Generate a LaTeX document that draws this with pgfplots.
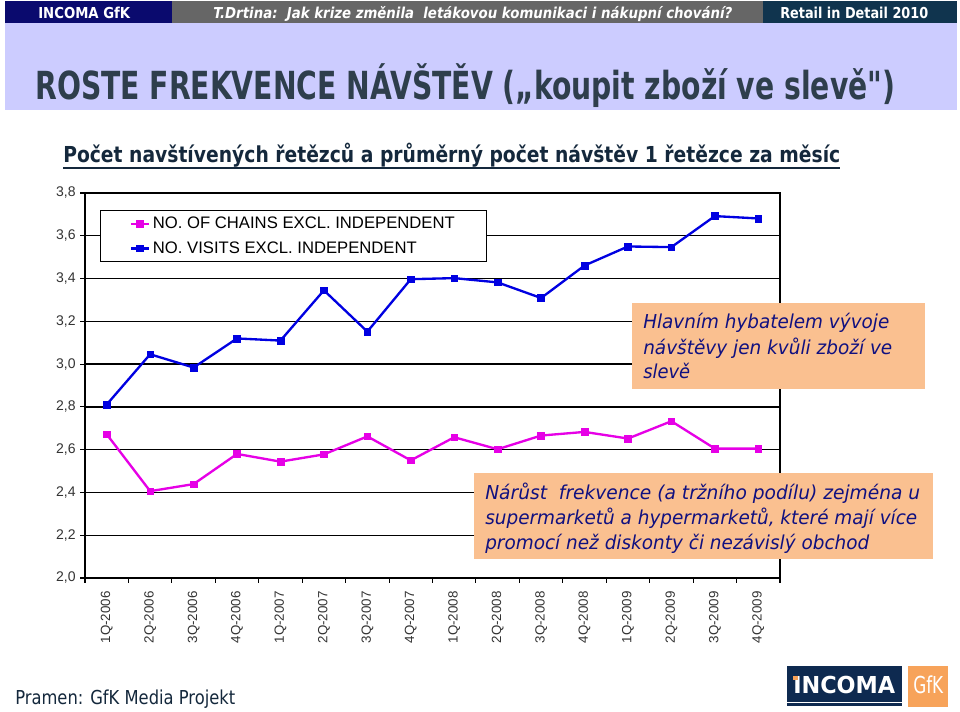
\documentclass[border=0pt]{standalone}
\usepackage{pgfplots}
\pgfplotsset{compat=1.18}
\usepackage{fontspec}
\setmainfont{Liberation Sans}
\newfontfamily\dvs{DejaVu Sans}
\definecolor{hnavy}{RGB}{10,10,110}
\definecolor{hgray}{RGB}{102,102,102}
\definecolor{hteal}{RGB}{16,52,78}
\definecolor{lav}{RGB}{204,204,255}
\definecolor{titlec}{RGB}{46,62,76}
\definecolor{subc}{RGB}{20,40,60}
\definecolor{peach}{RGB}{250,192,144}
\definecolor{annc}{RGB}{16,16,128}
\definecolor{pinkc}{RGB}{230,0,230}
\definecolor{bluec}{RGB}{0,0,225}
\definecolor{logonavy}{RGB}{14,42,80}
\definecolor{logoor}{RGB}{247,163,90}
\newcommand\fitw[2]{\resizebox{#1}{\height}{#2}}
\pgfplotstableread{
x chains visits
0 2.672 2.811
1 2.406 3.046
2 2.439 2.984
3 2.580 3.120
4 2.544 3.110
5 2.578 3.345
6 2.662 3.152
7 2.550 3.397
8 2.658 3.402
9 2.602 3.382
10 2.666 3.309
11 2.683 3.461
12 2.652 3.550
13 2.733 3.547
14 2.605 3.692
15 2.605 3.681
}\datatable
\begin{document}
\begin{tikzpicture}[x=0.75pt,y=0.75pt]
\useasboundingbox (0,0) rectangle (960,711);
\fill[white] (0,0) rectangle (960,711);
% header bar
\fill[hnavy] (5,710) rectangle (172,688);
\fill[hgray] (172,710) rectangle (763,688);
\fill[hteal] (763,710) rectangle (957,688);
\node[anchor=base west,inner sep=0,text=white] at (38,692) {\fitw{69pt}{\dvs\bfseries\fontsize{11.3}{13}\selectfont INCOMA GfK}};
\node[anchor=base west,inner sep=0,text=white] at (213,692) {\fitw{389.25pt}{\dvs\bfseries\itshape\fontsize{11.3}{13}\selectfont T.Drtina:\ \ Jak krize změnila\ \ letákovou komunikaci i nákupní chování?}};
\node[anchor=base west,inner sep=0,text=white] at (780,692) {\fitw{111pt}{\dvs\bfseries\fontsize{11.3}{13}\selectfont Retail in Detail 2010}};
% title band
\fill[lav] (5,688) rectangle (957,601);
\node[anchor=base west,inner sep=0,text=titlec] at (35,611) {\fitw{645pt}{\dvs\bfseries\fontsize{29}{31}\selectfont ROSTE FREKVENCE NÁVŠTĚV („koupit zboží ve slevě")}};
% subtitle
\node[anchor=base west,inner sep=0,text=subc] at (63,548) {\fitw{582.75pt}{\dvs\bfseries\fontsize{16.5}{19}\selectfont Počet navštívených řetězců a průměrný počet návštěv 1 řetězce za měsíc}};
\draw[subc,line width=1.5pt] (63,543) -- (840,543);
% chart
\begin{axis}[
  at={(63.75pt,99.75pt)}, anchor=south west,
  scale only axis, width=521.25pt, height=288.75pt,
  xmin=-0.5, xmax=15.5, ymin=2, ymax=3.8,
  xtick={-0.5,0.5,1.5,2.5,3.5,4.5,5.5,6.5,7.5,8.5,9.5,10.5,11.5,12.5,13.5,14.5,15.5},
  xticklabels={1Q-2006,2Q-2006,3Q-2006,4Q-2006,1Q-2007,2Q-2007,3Q-2007,4Q-2007,1Q-2008,2Q-2008,3Q-2008,4Q-2008,1Q-2009,2Q-2009,3Q-2009,4Q-2009,{}},
  xticklabel style={rotate=90, anchor=east, yshift=-16.3pt, xshift=-3pt, font=\fontsize{10}{12}\selectfont, text=black!80},
  ytick={2,2.2,2.4,2.6,2.8,3,3.2,3.4,3.6,3.8},
  yticklabel style={font=\fontsize{10.5}{12}\selectfont, text=black!80, /pgf/number format/.cd, fixed, fixed zerofill, precision=1, use comma, assume math mode=true},
  tick align=outside, major tick length=3.5pt,
  tick style={black, line width=0.8pt},
  xtick pos=left, ytick pos=left,
  ymajorgrids, grid style={black, line width=1pt},
  axis line style={black, line width=1.1pt},
  legend style={at={(0.0216,0.9558)}, anchor=north west, draw=black, line width=0.8pt, fill=white,
    font=\fontsize{12.5}{15}\selectfont, inner xsep=22pt, inner ysep=3pt, row sep=4pt, cells={anchor=west}},
  legend image code/.code={\draw[#1, mark repeat=2, mark phase=2] plot coordinates {(0pt,0pt) (6.75pt,0pt) (13.5pt,0pt)};},
]
\addplot[pinkc, line width=1.75pt, mark=square*, mark size=2.5pt, mark options={solid, fill=pinkc, line width=0.4pt}] table[x=x,y=chains] {\datatable};
\addlegendentry{NO. OF CHAINS EXCL. INDEPENDENT}
\addplot[bluec, line width=1.75pt, mark=square*, mark size=2.5pt, mark options={solid, fill=bluec, line width=0.4pt}] table[x=x,y=visits] {\datatable};
\addlegendentry{NO. VISITS EXCL. INDEPENDENT}
\end{axis}
% annotation boxes
\fill[peach] (632,408) rectangle (925,322);
\node[anchor=base west,inner sep=0,text=annc] at (643,382) {\fitw{184.5pt}{\dvs\itshape\fontsize{14.4}{17}\selectfont Hlavním hybatelem vývoje}};
\node[anchor=base west,inner sep=0,text=annc] at (643,356) {\fitw{186.75pt}{\dvs\itshape\fontsize{14.4}{17}\selectfont návštěvy jen kvůli zboží ve}};
\node[anchor=base west,inner sep=0,text=annc] at (643,332) {\fitw{35.25pt}{\dvs\itshape\fontsize{14.4}{17}\selectfont slevě}};
\fill[peach] (474,238) rectangle (933,152);
\node[anchor=base west,inner sep=0,text=annc] at (485,212) {\fitw{326.25pt}{\dvs\itshape\fontsize{14.4}{17}\selectfont Nárůst\ \ frekvence (a tržního podílu) zejména u}};
\node[anchor=base west,inner sep=0,text=annc] at (485,187) {\fitw{324pt}{\dvs\itshape\fontsize{14.4}{17}\selectfont supermarketů a hypermarketů, které mají více}};
\node[anchor=base west,inner sep=0,text=annc] at (485,162) {\fitw{288pt}{\dvs\itshape\fontsize{14.4}{17}\selectfont promocí než diskonty či nezávislý obchod}};
% footer
\node[anchor=base west,inner sep=0,text=subc] at (15,7) {\fitw{165pt}{\dvs\fontsize{14.4}{17}\selectfont Pramen: GfK Media Projekt}};
\fill[logonavy] (787,45) rectangle (902,9);
\fill[logonavy] (787,8) rectangle (902,5);
\fill[logoor] (908,45) rectangle (948,4);
\node[anchor=base west,inner sep=0,text=white] at (793,18) {\fitw{76.5pt}{\dvs\bfseries\fontsize{17.5}{20}\selectfont INCOMA}};
\fill[logoor] (793,35.5) rectangle (798,31);
\node[anchor=base west,inner sep=0,text=white] at (913,18) {\fitw{22.5pt}{\dvs\fontsize{17.5}{20}\selectfont GfK}};
\end{tikzpicture}
\end{document}
